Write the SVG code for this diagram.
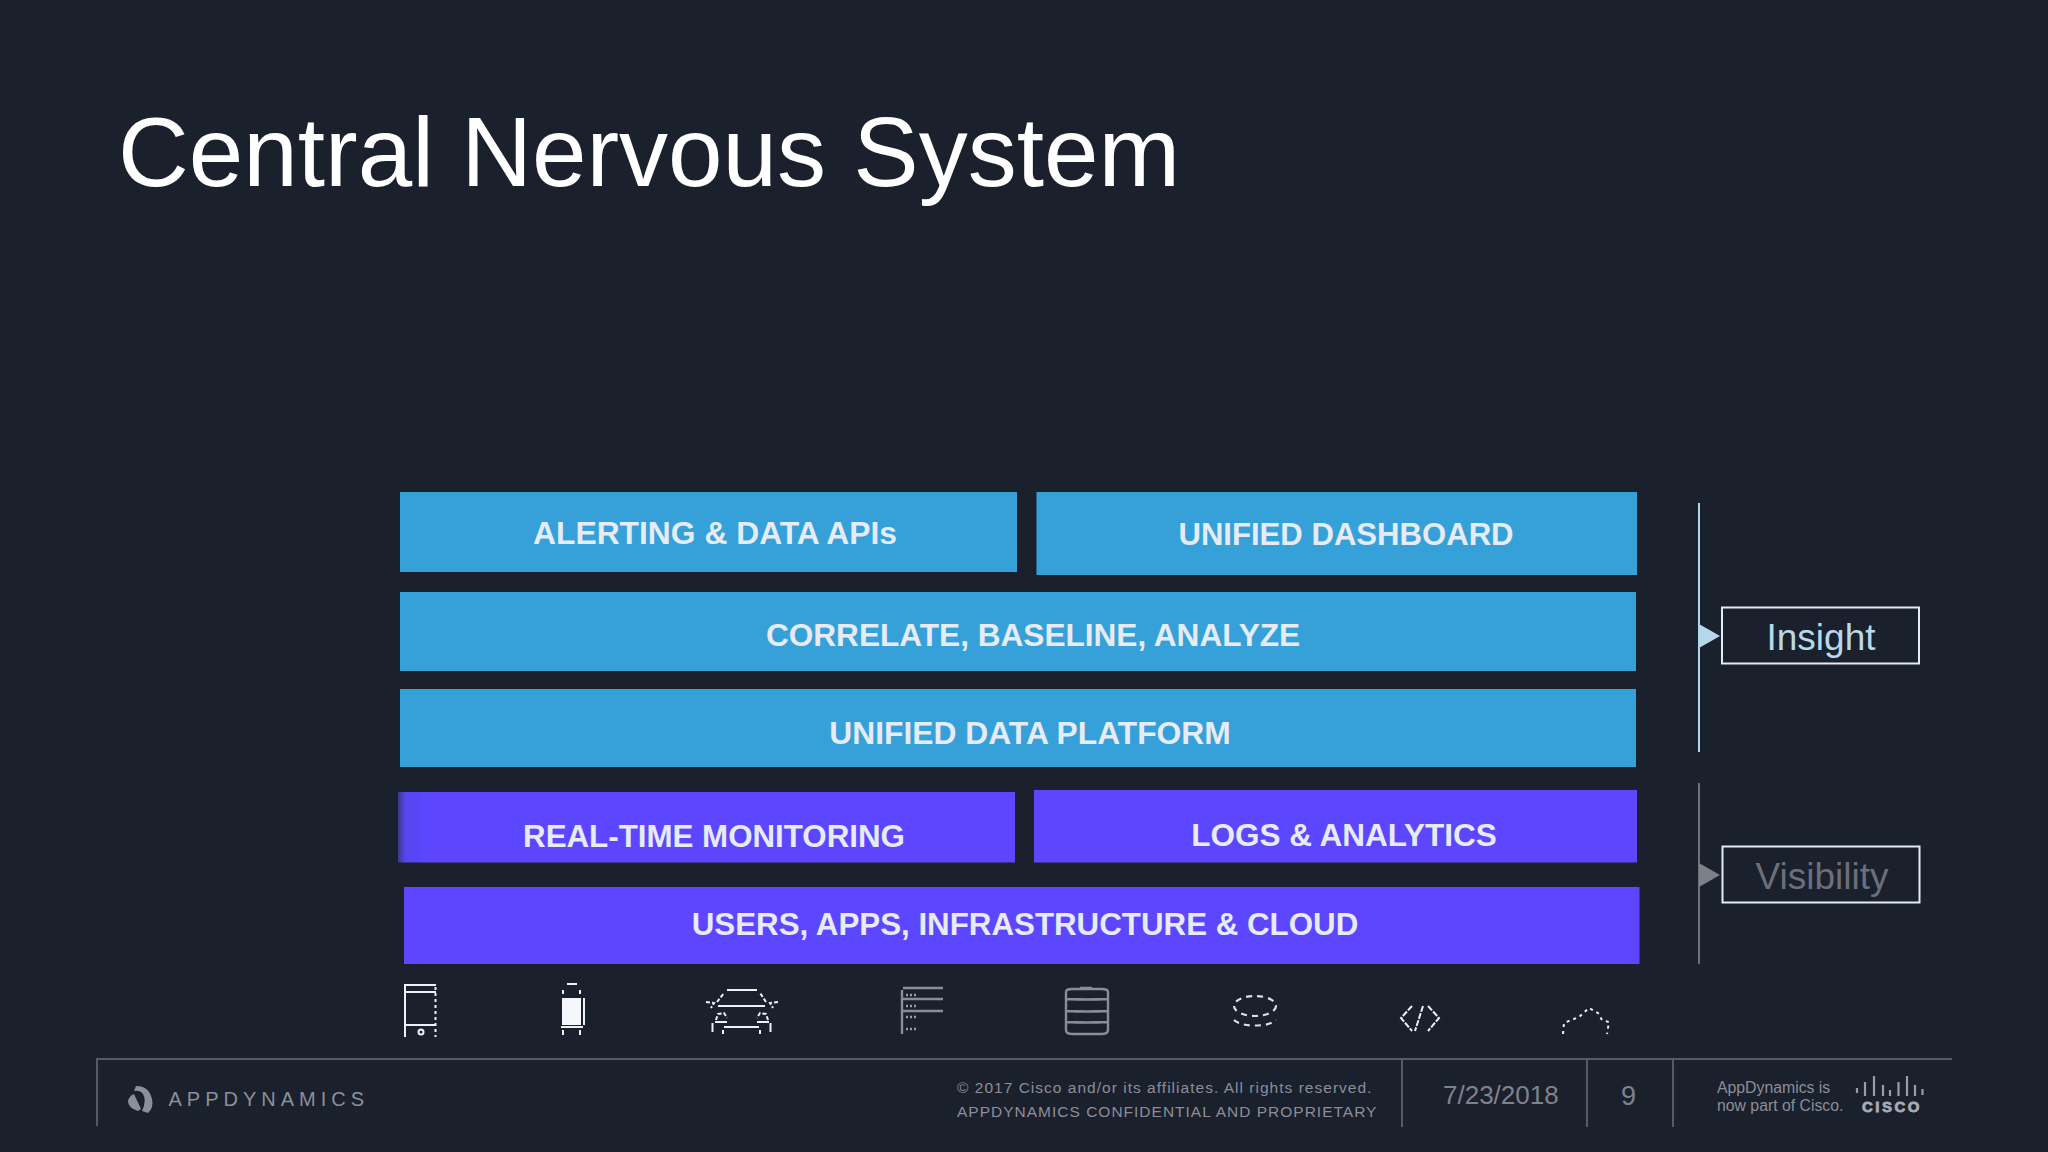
<svg xmlns="http://www.w3.org/2000/svg" width="2048" height="1152" viewBox="0 0 2048 1152">
<defs>
<linearGradient id="rtg" x1="0" x2="1" y1="0" y2="0"><stop offset="0" stop-color="#3a3a86"/><stop offset="0.012" stop-color="#5646f0"/><stop offset="0.04" stop-color="#5c46ff"/></linearGradient>
</defs>
<style>
.t{font-family:"Liberation Sans",Arial,sans-serif}
.bl{font-family:"Liberation Sans",Arial,sans-serif;font-weight:700;font-size:31.500px;fill:#e6ebf6;text-anchor:middle}
.blue{fill:#36a1d9}
.pur{fill:#5c46ff}
.ft{stroke:#565a68;stroke-width:2;fill:none}
.ic{stroke:#eef0f5;stroke-width:2;fill:none}
.icg{stroke:#8a8d96;stroke-width:2.400;fill:none}
.icd{stroke:#dfe1e6;stroke-width:2.200;fill:none}
</style>
<rect width="2048" height="1152" fill="#1b202d"/>
<text class="t" x="118" y="186" font-size="98" fill="#ffffff">Central Nervous System</text>

<g id="alerting"><rect class="blue" x="400" y="492" width="617" height="80"/><text class="bl" x="715" y="544" style="font-size:31.800px">ALERTING &amp; DATA APIs</text></g>
<g id="dashboard"><rect class="blue" x="1036.500" y="492" width="600.500" height="83"/><text class="bl" x="1346" y="545" style="font-size:31.100px">UNIFIED DASHBOARD</text></g>
<g id="correlate"><rect class="blue" x="400" y="592" width="1236" height="79"/><text class="bl" x="1033" y="646" style="font-size:31.600px">CORRELATE, BASELINE, ANALYZE</text></g>
<g id="platform"><rect class="blue" x="400" y="689" width="1236" height="78"/><text class="bl" x="1030" y="744" style="font-size:31.800px">UNIFIED DATA PLATFORM</text></g>
<g id="monitoring"><rect fill="url(#rtg)" x="398" y="792" width="617" height="70.500"/><text class="bl" x="714" y="847" style="font-size:31.300px">REAL-TIME MONITORING</text></g>
<g id="logs"><rect class="pur" x="1034" y="790" width="603" height="72.500"/><text class="bl" x="1344" y="846">LOGS &amp; ANALYTICS</text></g>
<g id="users"><rect class="pur" x="404" y="887" width="1235.500" height="77"/><text class="bl" x="1025" y="935" style="font-size:31.300px">USERS, APPS, INFRASTRUCTURE &amp; CLOUD</text></g>

<g id="connectors">
<path d="M1699 503V752" stroke="#b4d8ea" stroke-width="2" fill="none"/>
<path d="M1699 624L1720 636L1699 648Z" fill="#b4d8ea"/>
<path d="M1699 783V964" stroke="#6e727c" stroke-width="2" fill="none"/>
<path d="M1699 863L1720 875L1699 887Z" fill="#7d8087"/>
</g>
<g id="insight"><rect x="1722" y="607.500" width="197" height="56" fill="#1b202d" stroke="#e4ecf3" stroke-width="2"/><text class="t" x="1821" y="650" font-size="37" fill="#b8d9ea" text-anchor="middle">Insight</text></g>
<g id="visibility"><rect x="1722.500" y="846.500" width="197" height="56" fill="#1b202d" stroke="#e4ecf3" stroke-width="2"/><text class="t" x="1822" y="889" font-size="37" fill="#6a6f7b" text-anchor="middle">Visibility</text></g>

<g id="icon-phone"><path class="ic" d="M405 1037V985H436M405 992H436M405 1025H436"/><path class="ic" stroke-width="1.500" stroke-dasharray="3 3" d="M435.500 987V1037"/><circle class="ic" cx="421" cy="1032" r="2.500"/></g>
<g id="icon-tablet"><rect x="562" y="998" width="19" height="27" fill="#f5f7fb"/><path class="ic" d="M584 998V1025M561 1027H583M567 984H577M563 990V994M580 990V994M563 1030V1035M580 1030V1035"/></g>
<g id="icon-car"><path class="ic" d="M727 990H757M718 1006H765M715 1022H727M757 1022H769M724 1027H759M712.500 1023V1032M770.500 1023V1032"/><path class="ic" stroke-dasharray="4 2" d="M717 1002L724 993M766 1002L760 993M706 1002L714 1003L711 1008M778 1002L770 1003L773 1008M716 1020L718 1014L724 1013L727 1018M768 1020L766 1014L760 1013L757 1018M723 1030V1034M760 1030V1034"/></g>
<g id="icon-server"><path class="icg" d="M903 988H943M902 999H943M902 1011H943M902 990V1034"/><path stroke="#9a9ca3" stroke-width="2.400" stroke-dasharray="2 2" d="M906 995H917M906 1006H917M906 1017H917M906 1029H917" fill="none"/></g>
<g id="icon-database"><path class="icg" d="M1066 992Q1066 989 1072 989H1102Q1108 989 1108 992V1030Q1108 1034 1102 1034H1072Q1066 1034 1066 1030ZM1066 999Q1087 1000 1108 999M1066 1011Q1087 1012 1108 1011M1066 1022Q1087 1023 1108 1022M1080 988H1092"/></g>
<g id="icon-storage"><ellipse class="icd" cx="1255" cy="1006" rx="21" ry="10" stroke-dasharray="6 5"/><path class="icd" d="M1234 1020Q1240 1025.500 1255 1025.500Q1270 1025.500 1276 1020" stroke-dasharray="6 5"/></g>
<g id="icon-code"><path class="ic" stroke-dasharray="6 1.500" d="M1412 1006L1401 1018L1412 1031M1428 1006L1439 1018L1428 1031M1423 1006L1415 1031"/></g>
<g id="icon-cloud"><path class="ic" stroke-dasharray="3 4" d="M1563 1034L1564 1023L1579 1017L1589 1008L1598 1013L1602 1020L1609 1022L1607 1034"/></g>

<g id="footer">
<path class="ft" d="M97 1126V1059H1952M1402 1059V1127M1587 1059V1127M1673 1059V1127"/>
<path d="M136 1086Q149 1086 152 1099Q154 1108 148 1113L142 1111Q147 1100 143 1094Q140 1090 134 1091Z" fill="#8c8f9a"/>
<path d="M134 1094L141 1109L138 1111Q128 1108 128 1101Q129 1096 134 1094Z" fill="#8c8f9a"/>
<text class="t" x="168.500" y="1106" font-size="20" fill="#8c8f9a" letter-spacing="5">APPDYNAMICS</text>
<text class="t" x="957" y="1093" font-size="15.500" fill="#8b8e98" letter-spacing="1.020">© 2017 Cisco and/or its affiliates. All rights reserved.</text>
<text class="t" x="957" y="1117" font-size="15.500" fill="#8b8e98" letter-spacing="1">APPDYNAMICS CONFIDENTIAL AND PROPRIETARY</text>
<text class="t" x="1443" y="1104" font-size="26" fill="#7f828c">7/23/2018</text>
<text class="t" x="1621" y="1105" font-size="27" fill="#7f828c">9</text>
<text class="t" x="1717" y="1093" font-size="15.800" fill="#8b8e98">AppDynamics is</text>
<text class="t" x="1717" y="1111" font-size="15.800" fill="#8b8e98">now part of Cisco.</text>
<path d="M1857 1088V1093M1865 1082V1096M1874 1076V1096M1883 1085V1096M1890 1090V1096M1898.500 1082V1096M1907 1076V1096M1915 1085V1096M1922.500 1089V1095" stroke="#9a9ca5" stroke-width="2.200" fill="none"/>
<text class="t" x="1862" y="1112" font-size="15" font-weight="700" fill="#a9abb3" stroke="#a9abb3" stroke-width="0.800" letter-spacing="2.500">CISCO</text>
</g>
</svg>
